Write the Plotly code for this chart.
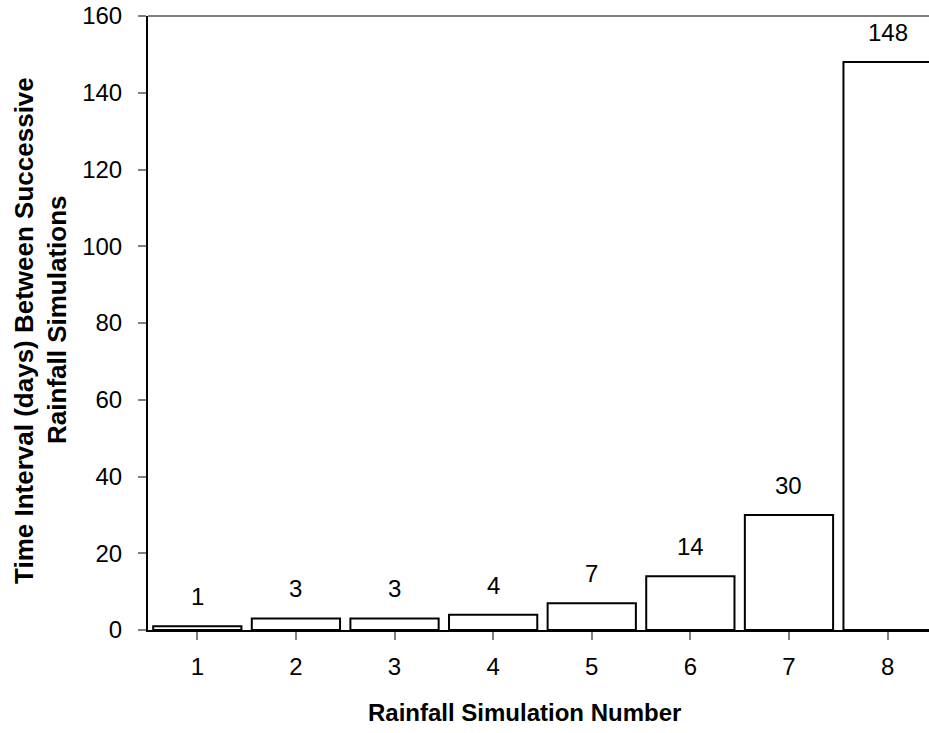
import plotly.graph_objects as go

categories = ["1", "2", "3", "4", "5", "6", "7", "8"]
values = [1, 3, 3, 4, 7, 14, 30, 148]
y_ticks = [0, 20, 40, 60, 80, 100, 120, 140, 160]

FONT = "Liberation Sans, Arial, sans-serif"
FS = 24

fig = go.Figure()
fig.add_trace(go.Bar(
    x=list(range(len(categories))), y=values,
    marker=dict(color="white", line=dict(color="black", width=2)),
    width=0.895, cliponaxis=True, hoverinfo="skip",
))

for i, v in enumerate(values):
    fig.add_annotation(x=i, y=v, text=str(v), showarrow=False, yanchor="bottom",
                       yshift=14, font=dict(family=FONT, size=FS, color="black"))

fig.add_shape(type="line", xref="paper", yref="paper", x0=0, x1=1, y0=1, y1=1,
              line=dict(color="#808080", width=2), layer="above")

# x-axis title
fig.add_annotation(x=0.4827, xref="paper", y=-0.1336, yref="paper",
                   xanchor="center", yanchor="middle",
                   text="<b>Rainfall Simulation Number</b>", showarrow=False,
                   font=dict(family=FONT, size=FS, color="black"))
# y-axis title (two lines)
fig.add_annotation(x=-0.1588, xref="paper", y=0.4886, yref="paper",
                   xanchor="center", yanchor="middle", textangle=-90,
                   text="<b>Time Interval (days) Between Successive</b>", showarrow=False,
                   font=dict(family=FONT, size=26, color="black"))
fig.add_annotation(x=-0.1165, xref="paper", y=0.505, yref="paper",
                   xanchor="center", yanchor="middle", textangle=-90,
                   text="<b>Rainfall Simulations</b>", showarrow=False,
                   font=dict(family=FONT, size=26, color="black"))

fig.update_layout(
    width=929, height=733,
    margin=dict(l=148, r=0, t=16, b=103),
    paper_bgcolor="white", plot_bgcolor="white",
    showlegend=False,
    font=dict(family=FONT, size=FS, color="black"),
    xaxis=dict(
        tickmode="array", tickvals=list(range(len(categories))), ticktext=categories,
        range=[-0.5, 7.42], tickson="boundaries", ticks="outside", ticklen=8,
        tickcolor="#808080", tickwidth=2, showline=True, linecolor="black", linewidth=2,
        showgrid=False, zeroline=False, tickfont=dict(size=FS), ticklabelstandoff=6,
    ),
    yaxis=dict(
        range=[0, 160], tickvals=y_ticks, ticks="outside", ticklen=8,
        tickcolor="#808080", tickwidth=2, showline=True, linecolor="black", linewidth=2,
        showgrid=False, zeroline=False, tickfont=dict(size=FS), ticklabelstandoff=11,
        ticklabeloverflow="allow",
    ),
)

fig.write_html("out.html", config={"displayModeBar": False},
               post_script="document.body.style.margin='0';")
